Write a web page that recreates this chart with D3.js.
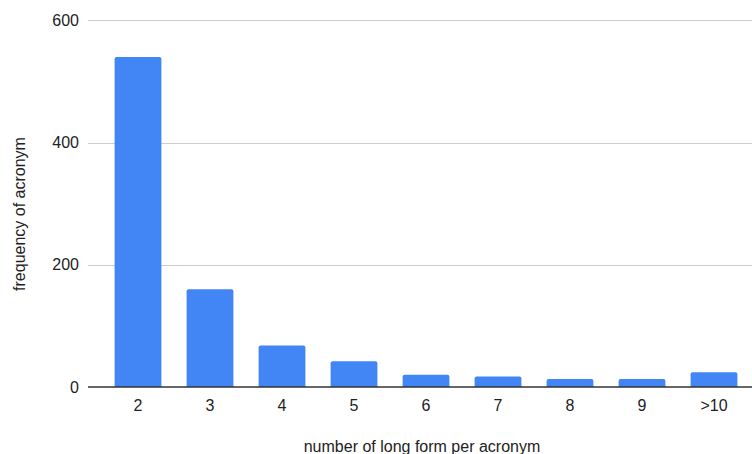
<!DOCTYPE html>
<html><head><meta charset="utf-8">
<script src="https://cdn.jsdelivr.net/npm/d3@7"></script>
<style>html,body{margin:0;padding:0;background:#fff}svg{display:block}</style>
</head><body>
<script>
const categories = ["2","3","4","5","6","7","8","9",">10"];
const values = [540,160,68,42,20,17,13,13,24];
const yTicks = [0,200,400,600];
const xTitle = "number of long form per acronym";
const yTitle = "frequency of acronym";

const W = 752, H = 454;
const svg = d3.select("body").append("svg").attr("width", W).attr("height", H)
  .style("font-family", "'Liberation Sans', Arial, sans-serif");

const y = d3.scaleLinear().domain([0,600]).range([387,20.3]);
const x = d3.scaleBand().domain(categories).range([102,750]).paddingInner(0.35).paddingOuter(0.175);

// gridlines
svg.append("g").selectAll("line").data(yTicks.filter(d=>d>0)).join("line")
  .attr("x1",88).attr("x2",752).attr("y1",d=>Math.round(y(d))+0.5).attr("y2",d=>Math.round(y(d))+0.5)
  .attr("stroke","#cccccc").attr("stroke-width",1);

// y tick labels
svg.append("g").selectAll("text").data(yTicks).join("text")
  .attr("x",79).attr("y",d=>y(d)).attr("dy","0.35em").attr("text-anchor","end")
  .attr("font-size",16).attr("fill","#222").text(d=>d);

// bars with rounded tops
const r = 2;
svg.append("g").selectAll("path").data(values).join("path")
  .attr("fill","#4285f4")
  .attr("d",(d,i)=>{
    const x0 = x(categories[i]), w = x.bandwidth(), y0 = y(d), yb = y(0);
    return `M${x0},${yb}V${y0+r}Q${x0},${y0} ${x0+r},${y0}H${x0+w-r}Q${x0+w},${y0} ${x0+w},${y0+r}V${yb}Z`;
  });

// baseline
svg.append("line").attr("x1",88).attr("x2",752).attr("y1",387).attr("y2",387)
  .attr("stroke","#333").attr("stroke-width",1.3);

// x tick labels
svg.append("g").selectAll("text").data(categories).join("text")
  .attr("x",d=>x(d)+x.bandwidth()/2).attr("y",411).attr("text-anchor","middle")
  .attr("font-size",16).attr("fill","#222").text(d=>d);

// titles
svg.append("text").attr("x",422).attr("y",452).attr("text-anchor","middle")
  .attr("font-size",16).attr("fill","#222").text(xTitle);
svg.append("text").attr("transform","translate(25,214) rotate(-90)").attr("text-anchor","middle")
  .attr("font-size",16).attr("fill","#222").text(yTitle);
</script>
</body></html>
